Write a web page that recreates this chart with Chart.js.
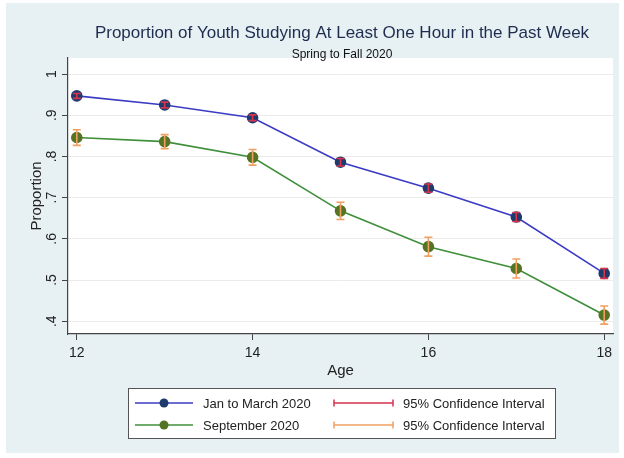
<!DOCTYPE html>
<html>
<head>
<meta charset="utf-8">
<script src="https://cdn.jsdelivr.net/npm/chart.js@4"></script>
<style>
    html, body { margin: 0; padding: 0; background: #ffffff; }
    #wrap { width: 624px; height: 458px; }
</style>
</head>
<body>
<div id="wrap"><canvas id="lineChart" width="624" height="458"></canvas></div>
<script>
// values
const ages = [12, 13, 14, 15, 16, 17, 18];
const springValues = [0.947, 0.925, 0.894, 0.786, 0.723, 0.653, 0.516];
const springLow = [0.941, 0.918, 0.887, 0.777, 0.713, 0.642, 0.504];
const springHigh = [0.953, 0.932, 0.901, 0.795, 0.733, 0.664, 0.528];
const fallValues = [0.846, 0.836, 0.798, 0.668, 0.581, 0.528, 0.415];
const fallLow = [0.827, 0.819, 0.779, 0.647, 0.558, 0.505, 0.393];
const fallHigh = [0.865, 0.853, 0.817, 0.689, 0.604, 0.551, 0.437];
const xTicks = [12, 14, 16, 18];
const yTicks = [0.4, 0.5, 0.6, 0.7, 0.8, 0.9, 1];
const yTickLabels = ['.4', '.5', '.6', '.7', '.8', '.9', '1'];
const seriesNames = ['Jan to March 2020', 'September 2020'];
const ciName = '95% Confidence Interval';

const titleText = 'Proportion of Youth Studying At Least One Hour in the Past Week';
const subtitleText = 'Spring to Fall 2020';

const lineColors = ['#3b3bc4', '#3f8f3a'];
const markerColors = ['#1d3c6c', '#557424'];
const ciColors = ['#d8324c', '#f0a062'];

const bgPlugin = {
    id: 'stataBg',
    beforeDraw(chart) {
        const ctx = chart.ctx;
        const a = chart.chartArea;
        ctx.save();
        ctx.fillStyle = '#ffffff';
        ctx.fillRect(0, 0, chart.width, chart.height);
        ctx.fillStyle = '#e7f0f3';
        ctx.fillRect(6, 3, chart.width - 11, chart.height - 8);
        ctx.fillStyle = '#ffffff';
        ctx.fillRect(a.left, a.top, a.right - a.left, a.bottom - a.top);
        ctx.restore();
    }
};

function drawCI(ctx, x, yLo, yHi, color) {
    ctx.strokeStyle = color;
    ctx.lineWidth = 1.6;
    ctx.beginPath();
    ctx.moveTo(x, yLo); ctx.lineTo(x, yHi);
    ctx.moveTo(x - 4, yLo); ctx.lineTo(x + 4, yLo);
    ctx.moveTo(x - 4, yHi); ctx.lineTo(x + 4, yHi);
    ctx.stroke();
}

const extrasPlugin = {
    id: 'extras',
    afterDatasetsDraw(chart) {
        const ctx = chart.ctx;
        const xs = chart.scales.x, ys = chart.scales.y;
        ctx.save();
        [[springLow, springHigh], [fallLow, fallHigh]].forEach(function (pair, s) {
            ages.forEach(function (age, i) {
                drawCI(ctx, xs.getPixelForValue(age), ys.getPixelForValue(pair[0][i]),
                    ys.getPixelForValue(pair[1][i]), ciColors[s]);
            });
        });
        ctx.restore();
    },
    afterDraw(chart) {
        const ctx = chart.ctx;
        const ys = chart.scales.y;
        ctx.save();
        // titles
        ctx.textAlign = 'center';
        ctx.textBaseline = 'middle';
        ctx.fillStyle = '#1e2d4f';
        ctx.font = '17px "Liberation Sans", Arial, sans-serif';
        ctx.fillText(titleText, 342, 33);
        ctx.fillStyle = '#111111';
        ctx.font = '12px "Liberation Sans", Arial, sans-serif';
        ctx.fillText(subtitleText, 342, 55);

        // y tick labels, turned like Stata does it
        ctx.font = '14px "Liberation Sans", Arial, sans-serif';
        ctx.fillStyle = '#222222';
        yTicks.forEach(function (v, i) {
            ctx.save();
            ctx.translate(52, ys.getPixelForValue(v));
            ctx.rotate(-Math.PI / 2);
            ctx.fillText(yTickLabels[i], 0, 0);
            ctx.restore();
        });

        // legend box
        const bx = 128, by = 388, bw = 427, bh = 50;
        ctx.fillStyle = '#ffffff';
        ctx.fillRect(bx, by, bw, bh);
        ctx.strokeStyle = '#555555';
        ctx.lineWidth = 1;
        ctx.strokeRect(bx + 0.5, by + 0.5, bw, bh);
        ctx.textAlign = 'left';
        ctx.font = '13px "Liberation Sans", Arial, sans-serif';
        [403, 425].forEach(function (ry, s) {
            ctx.strokeStyle = lineColors[s];
            ctx.lineWidth = 1.5;
            ctx.beginPath();
            ctx.moveTo(135, ry); ctx.lineTo(193, ry);
            ctx.stroke();
            ctx.fillStyle = markerColors[s];
            ctx.beginPath();
            ctx.arc(164, ry, 4.5, 0, Math.PI * 2);
            ctx.fill();
            ctx.fillStyle = '#222222';
            ctx.fillText(seriesNames[s], 203, ry + 1);

            ctx.strokeStyle = ciColors[s];
            ctx.lineWidth = 1.5;
            ctx.beginPath();
            ctx.moveTo(334, ry); ctx.lineTo(393, ry);
            ctx.moveTo(334, ry - 3.5); ctx.lineTo(334, ry + 3.5);
            ctx.moveTo(393, ry - 3.5); ctx.lineTo(393, ry + 3.5);
            ctx.stroke();
            ctx.fillStyle = '#222222';
            ctx.fillText(ciName, 403, ry + 1);
        });
        ctx.restore();
    }
};

const ctxLine = document.getElementById('lineChart').getContext('2d');
const lineChart = new Chart(ctxLine, {
    type: 'line',
    data: {
        datasets: [{
            label: seriesNames[0],
            data: ages.map((a, i) => ({ x: a, y: springValues[i] })),
            borderColor: lineColors[0],
            backgroundColor: markerColors[0],
            pointBackgroundColor: markerColors[0],
            pointBorderColor: markerColors[0],
            borderWidth: 1.6,
            pointRadius: 5,
            tension: 0
        }, {
            label: seriesNames[1],
            data: ages.map((a, i) => ({ x: a, y: fallValues[i] })),
            borderColor: lineColors[1],
            backgroundColor: markerColors[1],
            pointBackgroundColor: markerColors[1],
            pointBorderColor: markerColors[1],
            borderWidth: 1.6,
            pointRadius: 5,
            tension: 0
        }]
    },
    options: {
        responsive: false,
        animation: false,
        events: [],
        layout: { padding: { top: 58, left: 0, right: 11, bottom: 76 } },
        plugins: {
            legend: { display: false },
            title: { display: false },
            tooltip: { enabled: false }
        },
        scales: {
            x: {
                type: 'linear',
                min: 11.9,
                max: 18.1,
                afterBuildTicks: (scale) => { scale.ticks = xTicks.map(v => ({ value: v })); },
                afterFit: (scale) => { scale.height = 48; },
                grid: { display: true, drawOnChartArea: false, tickLength: 6, tickColor: '#444444' },
                border: { color: '#444444', width: 1.2 },
                ticks: {
                    color: '#222222',
                    padding: 5,
                    maxRotation: 0,
                    font: { family: '"Liberation Sans", Arial, sans-serif', size: 14 }
                },
                title: {
                    display: true,
                    text: 'Age',
                    color: '#222222',
                    padding: { top: 0, bottom: 2 },
                    font: { family: '"Liberation Sans", Arial, sans-serif', size: 15 }
                }
            },
            y: {
                type: 'linear',
                min: 0.369,
                max: 1.039,
                afterBuildTicks: (scale) => { scale.ticks = yTicks.map(v => ({ value: v })); },
                afterFit: (scale) => { scale.width = 68; },
                grid: { color: '#ebebeb', lineWidth: 1, tickLength: 6, tickColor: '#444444' },
                border: { color: '#444444', width: 1.2 },
                ticks: { display: false },
                title: {
                    display: true,
                    text: 'Proportion',
                    color: '#222222',
                    padding: { top: 28, bottom: 0 },
                    font: { family: '"Liberation Sans", Arial, sans-serif', size: 15 }
                }
            }
        }
    },
    plugins: [bgPlugin, extrasPlugin]
});
</script>
</body>
</html>
